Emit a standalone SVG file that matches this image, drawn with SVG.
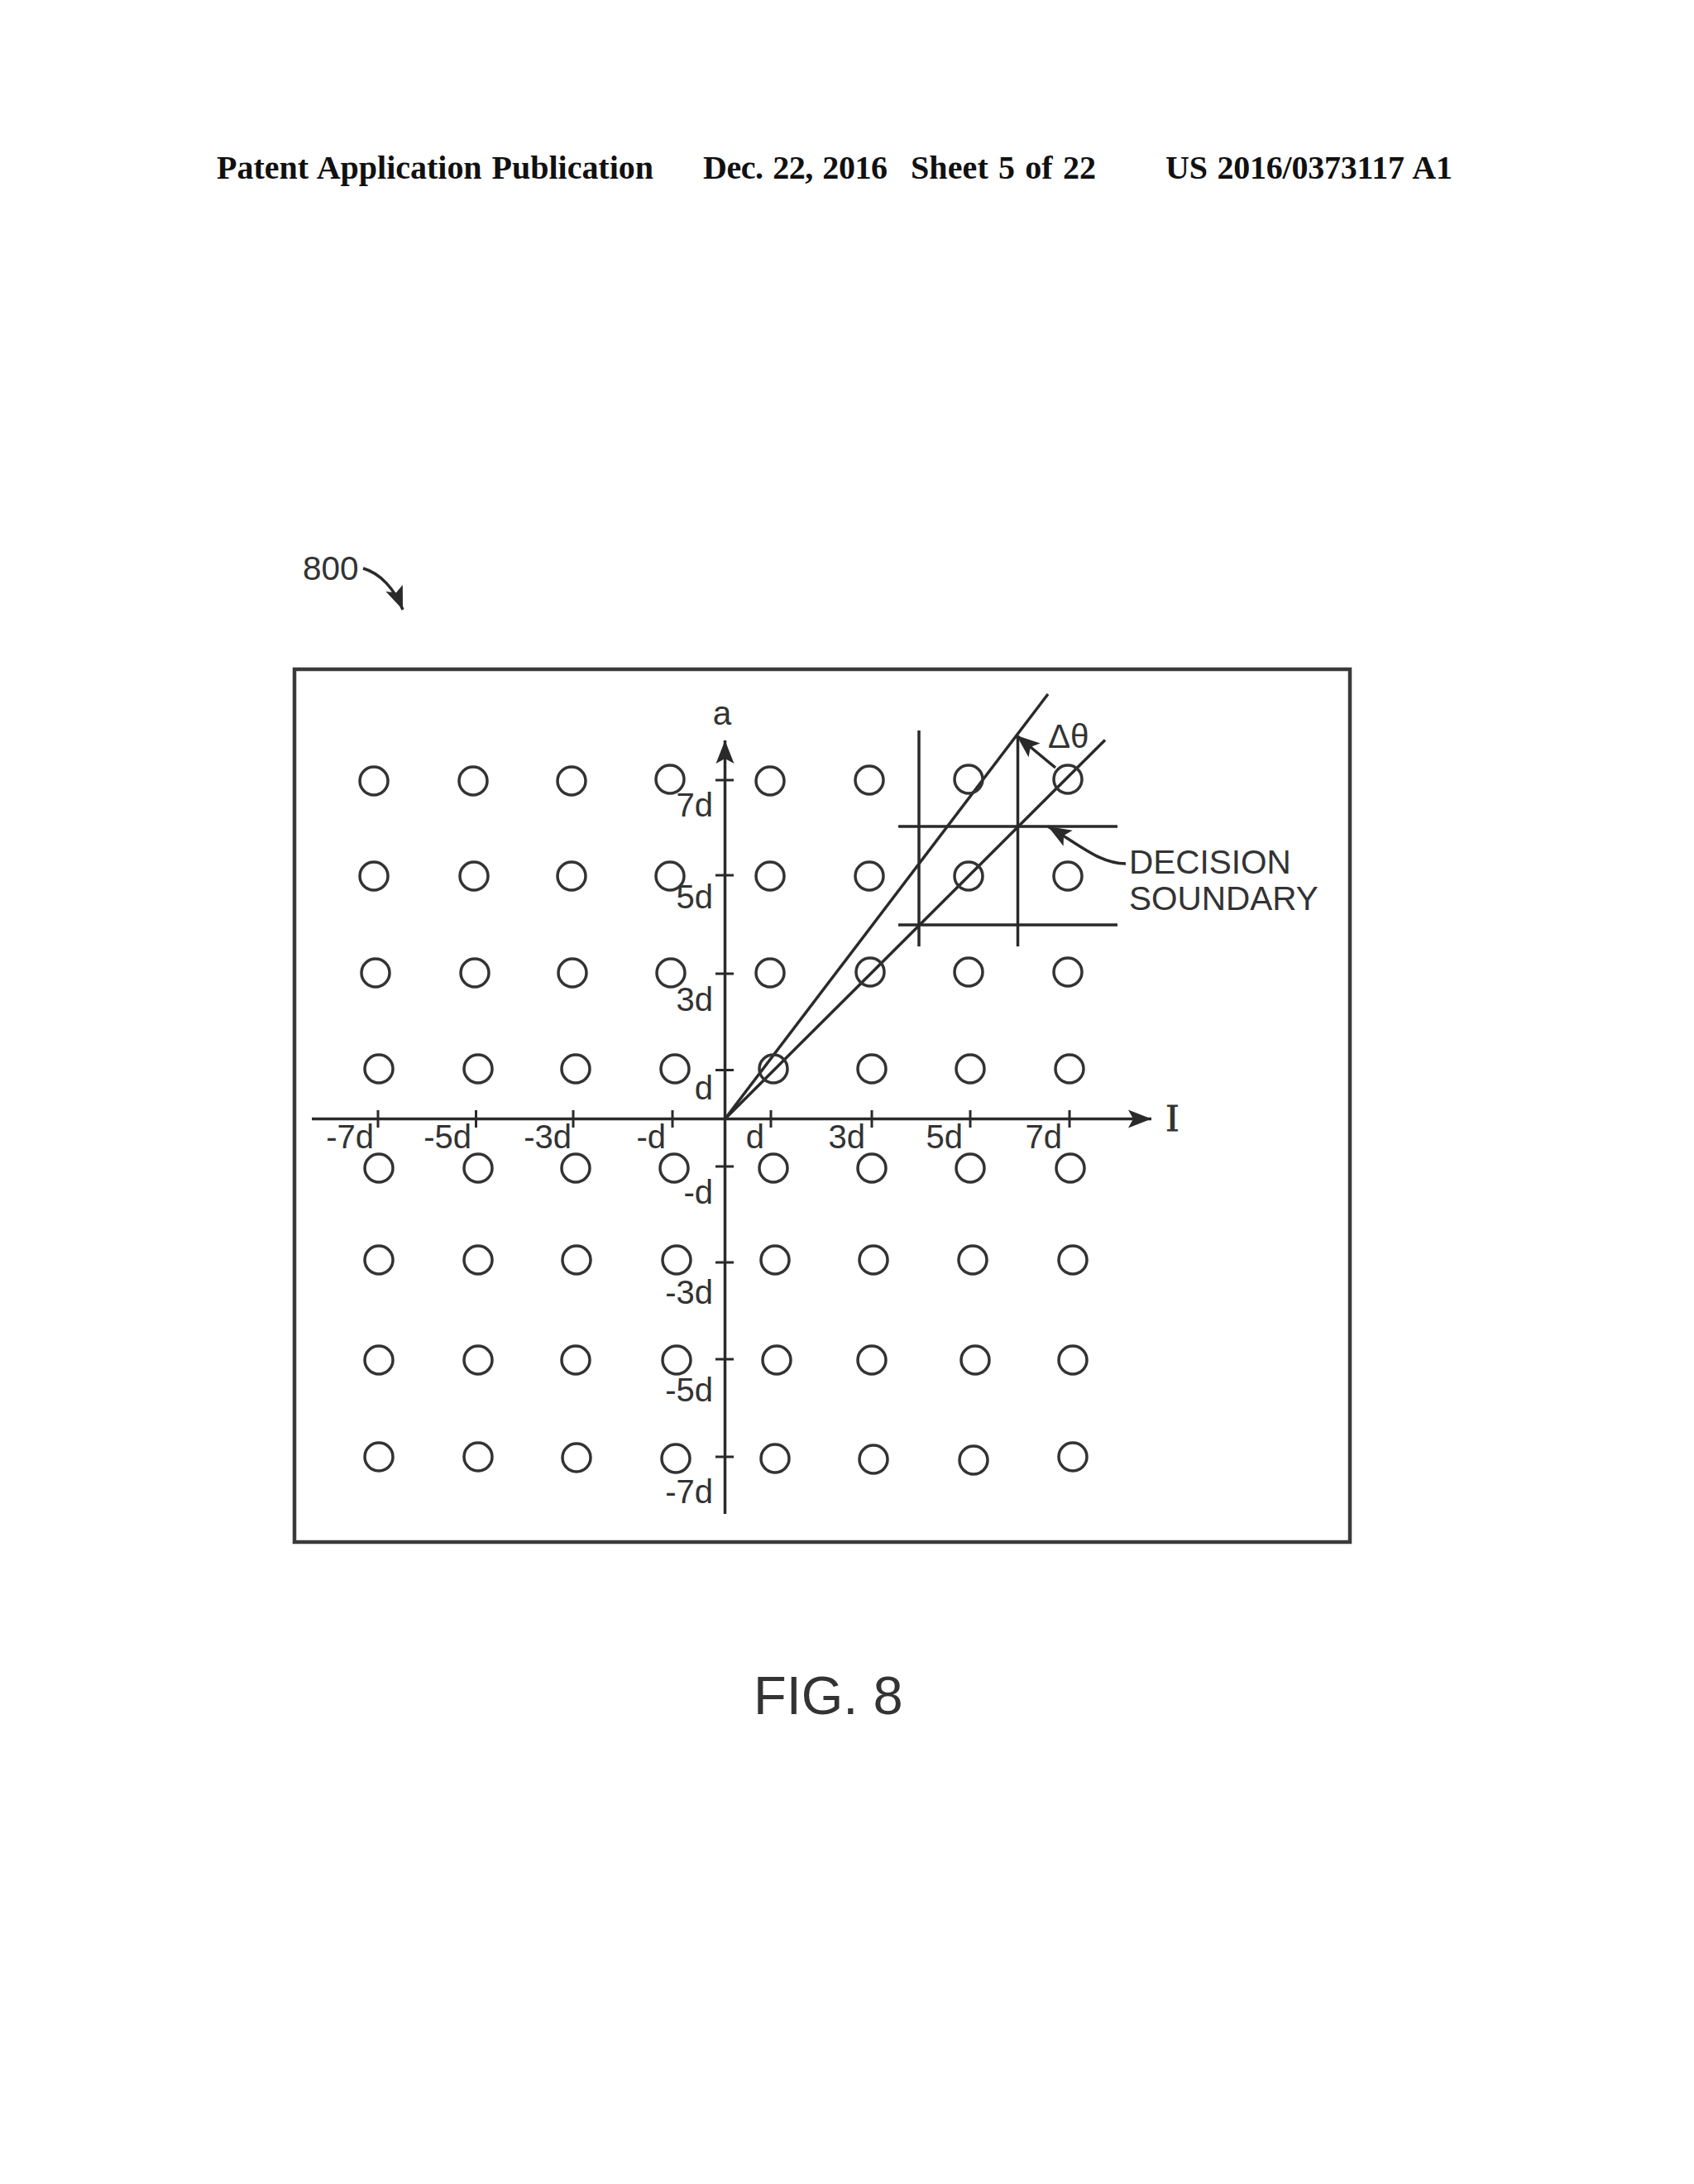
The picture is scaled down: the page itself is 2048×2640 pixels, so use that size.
<svg xmlns="http://www.w3.org/2000/svg" width="2048" height="2640" viewBox="0 0 2048 2640">
<style>
.hd{font-family:"Liberation Serif",serif;font-weight:700;font-size:40px;fill:#111;word-spacing:2px}
.lb{font-family:"Liberation Sans",Arial,sans-serif;font-size:40px;fill:#333}
.l2{font-family:"Liberation Sans",Arial,sans-serif;font-size:40.500px;fill:#333}
.ln{stroke:#2a2a2a;stroke-width:3.5;fill:none}
.tk{stroke:#2a2a2a;stroke-width:3;fill:none}
circle{fill:none;stroke:#333;stroke-width:3.5}
.e{text-anchor:end}
.m{text-anchor:middle}
</style>
<defs>
<marker id="ah" markerUnits="userSpaceOnUse" markerWidth="32" markerHeight="28" refX="28" refY="14" orient="auto"><path d="M0 3L28 14L0 25L6 14Z" fill="#2a2a2a"/></marker>
</defs>
<rect width="2048" height="2640" fill="#fff"/>
<g id="header">
<text class="hd" x="262" y="216" textLength="528">Patent Application Publication</text>
<text class="hd" x="850" y="216" textLength="223">Dec. 22, 2016</text>
<text class="hd" x="1101" y="216" textLength="224">Sheet 5 of 22</text>
<text class="hd" x="1409" y="216" textLength="347">US 2016/0373117 A1</text>
</g>
<g id="ref-800"><text class="l2" x="366" y="701">800</text></g>
<g id="frame"><rect x="356" y="809" width="1276" height="1055" fill="none" stroke="#3a3a3a" stroke-width="4.5"/></g>
<g id="connectors">
<path class="ln" d="M876.5 1830V895" marker-end="url(#ah)"/>
<path class="ln" d="M377 1352.500H1392" marker-end="url(#ah)"/>
<path class="ln" d="M876.500 1352.500L1336 894.500"/>
<path class="ln" d="M876.500 1352.500L1267 839"/>
<path class="ln" d="M1111 883V1144M1230.500 889V1144M1086 999H1351M1086 1118H1351"/>
<path class="ln" d="M1276 928L1229 889" marker-end="url(#ah)"/>
<path class="ln" d="M1361 1044C1330 1044 1308 1023 1267 999" marker-end="url(#ah)"/>
<path class="ln" d="M439 687C460 693 477 712 487 737" marker-end="url(#ah)"/>
<path class="tk" d="M457 1342V1363M575.500 1342V1363M693 1342V1363M813 1342V1363M932 1342V1363M1054 1342V1363M1173 1342V1363M1293 1342V1363"/>
<path class="tk" d="M865 943H887M865 1058H887M865 1177H887M865 1293.500H887M865 1410H887M865 1526H887M865 1643H887M865 1761H887"/>
</g>
<g id="axis-labels">
<text class="l2 m" x="873" y="876">a</text>
<text x="1417.500" y="1367" font-family="Liberation Serif, serif" font-size="46" fill="#333" stroke="#333" stroke-width="1" text-anchor="middle">I</text>
<text class="lb e" x="862" y="987">7d</text>
<text class="lb e" x="862" y="1098">5d</text>
<text class="lb e" x="862" y="1222">3d</text>
<text class="lb e" x="862" y="1329">d</text>
<text class="lb e" x="862" y="1455">-d</text>
<text class="lb e" x="862" y="1576">-3d</text>
<text class="lb e" x="862" y="1694">-5d</text>
<text class="lb e" x="862" y="1817">-7d</text>
<text class="lb e" x="452" y="1388">-7d</text>
<text class="lb e" x="570" y="1388">-5d</text>
<text class="lb e" x="691" y="1388">-3d</text>
<text class="lb e" x="805" y="1388">-d</text>
<text class="lb e" x="924" y="1388">d</text>
<text class="lb e" x="1046" y="1388">3d</text>
<text class="lb e" x="1164" y="1388">5d</text>
<text class="lb e" x="1284" y="1388">7d</text>
</g>
<g id="delta-theta"><text class="l2" x="1267" y="904">Δθ</text></g>
<g id="decision-boundary">
<text class="l2" x="1365" y="1056">DECISION</text>
<text class="l2" x="1365" y="1100">SOUNDARY</text>
</g>
<g id="points">
<g id="p1-1"><circle cx="452" cy="944" r="17"/></g><g id="p1-2"><circle cx="572" cy="944" r="17"/></g><g id="p1-3"><circle cx="691" cy="944" r="17"/></g><g id="p1-4"><circle cx="810" cy="942" r="17"/></g><g id="p1-5"><circle cx="931" cy="944" r="17"/></g><g id="p1-6"><circle cx="1051" cy="943" r="17"/></g><g id="p1-7"><circle cx="1171" cy="942" r="17"/></g><g id="p1-8"><circle cx="1291" cy="942" r="17"/></g>
<g id="p2-1"><circle cx="452" cy="1059" r="17"/></g><g id="p2-2"><circle cx="573" cy="1059" r="17"/></g><g id="p2-3"><circle cx="691" cy="1059" r="17"/></g><g id="p2-4"><circle cx="810" cy="1059" r="17"/></g><g id="p2-5"><circle cx="931" cy="1059" r="17"/></g><g id="p2-6"><circle cx="1051" cy="1059" r="17"/></g><g id="p2-7"><circle cx="1171" cy="1059" r="17"/></g><g id="p2-8"><circle cx="1291" cy="1059" r="17"/></g>
<g id="p3-1"><circle cx="454" cy="1176" r="17"/></g><g id="p3-2"><circle cx="574" cy="1176" r="17"/></g><g id="p3-3"><circle cx="692" cy="1176" r="17"/></g><g id="p3-4"><circle cx="811" cy="1176" r="17"/></g><g id="p3-5"><circle cx="931" cy="1176" r="17"/></g><g id="p3-6"><circle cx="1052" cy="1175" r="17"/></g><g id="p3-7"><circle cx="1171" cy="1175" r="17"/></g><g id="p3-8"><circle cx="1291" cy="1175" r="17"/></g>
<g id="p4-1"><circle cx="458" cy="1292" r="17"/></g><g id="p4-2"><circle cx="578" cy="1292" r="17"/></g><g id="p4-3"><circle cx="696" cy="1292" r="17"/></g><g id="p4-4"><circle cx="816" cy="1292" r="17"/></g><g id="p4-5"><circle cx="935" cy="1292" r="17"/></g><g id="p4-6"><circle cx="1054" cy="1292" r="17"/></g><g id="p4-7"><circle cx="1173" cy="1292" r="17"/></g><g id="p4-8"><circle cx="1293" cy="1292" r="17"/></g>
<g id="p5-1"><circle cx="458" cy="1412" r="17"/></g><g id="p5-2"><circle cx="578" cy="1412" r="17"/></g><g id="p5-3"><circle cx="696" cy="1412" r="17"/></g><g id="p5-4"><circle cx="815" cy="1412" r="17"/></g><g id="p5-5"><circle cx="935" cy="1412" r="17"/></g><g id="p5-6"><circle cx="1054" cy="1412" r="17"/></g><g id="p5-7"><circle cx="1173" cy="1412" r="17"/></g><g id="p5-8"><circle cx="1294" cy="1412" r="17"/></g>
<g id="p6-1"><circle cx="458" cy="1523" r="17"/></g><g id="p6-2"><circle cx="578" cy="1523" r="17"/></g><g id="p6-3"><circle cx="697" cy="1523" r="17"/></g><g id="p6-4"><circle cx="818" cy="1523" r="17"/></g><g id="p6-5"><circle cx="937" cy="1523" r="17"/></g><g id="p6-6"><circle cx="1056" cy="1523" r="17"/></g><g id="p6-7"><circle cx="1176" cy="1523" r="17"/></g><g id="p6-8"><circle cx="1297" cy="1523" r="17"/></g>
<g id="p7-1"><circle cx="458" cy="1644" r="17"/></g><g id="p7-2"><circle cx="578" cy="1644" r="17"/></g><g id="p7-3"><circle cx="696" cy="1644" r="17"/></g><g id="p7-4"><circle cx="818" cy="1644" r="17"/></g><g id="p7-5"><circle cx="939" cy="1644" r="17"/></g><g id="p7-6"><circle cx="1054" cy="1644" r="17"/></g><g id="p7-7"><circle cx="1179" cy="1644" r="17"/></g><g id="p7-8"><circle cx="1297" cy="1644" r="17"/></g>
<g id="p8-1"><circle cx="458" cy="1761" r="17"/></g><g id="p8-2"><circle cx="578" cy="1761" r="17"/></g><g id="p8-3"><circle cx="697" cy="1762" r="17"/></g><g id="p8-4"><circle cx="817" cy="1763" r="17"/></g><g id="p8-5"><circle cx="937" cy="1763" r="17"/></g><g id="p8-6"><circle cx="1056" cy="1764" r="17"/></g><g id="p8-7"><circle cx="1177" cy="1765" r="17"/></g><g id="p8-8"><circle cx="1297" cy="1761" r="17"/></g>
</g>
<g id="caption"><text x="911" y="2072" font-family="Liberation Sans, Arial, sans-serif" font-size="65" fill="#333">FIG. 8</text></g>
</svg>
